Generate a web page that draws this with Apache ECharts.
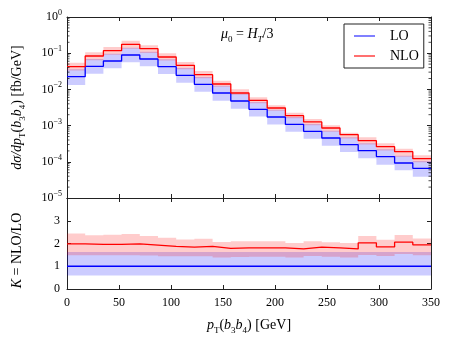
<!DOCTYPE html>
<html>
<head>
<meta charset="utf-8">
<script src="https://cdn.jsdelivr.net/npm/echarts@6/dist/echarts.min.js"></script>
<style>
  html, body { margin: 0; padding: 0; background: #fff; }
  #chart { width: 454px; height: 341px; }
</style>
</head>
<body>
<div id="chart"></div>
<script>
// bin edges of the pT(b3b4) histogram [GeV]
const binEdges = [0, 17.5, 35, 52.5, 70, 87.5, 105, 122.5, 140, 157.5, 175,
  192.5, 210, 227.5, 245, 262.5, 280, 297.5, 315, 332.5, 350];

// dsigma/dpT [fb/GeV], one value per bin
const loCentral = [0.0225, 0.0434, 0.0609, 0.0892, 0.0691, 0.0425, 0.0245, 0.0138, 0.00796, 0.00478,
  0.00281, 0.00173, 0.00108, 0.000695, 0.000454, 0.000297, 0.000203, 0.000139, 0.0000927, 0.0000660];
const loUp = [0.0359, 0.0692, 0.0971, 0.142, 0.110, 0.0677, 0.0391, 0.0220, 0.0127, 0.00762,
  0.00448, 0.00276, 0.00172, 0.00111, 0.000724, 0.000473, 0.000324, 0.000222, 0.000148, 0.000105];
const loDown = [0.0132, 0.0272, 0.0382, 0.0560, 0.0434, 0.0266, 0.0153, 0.00865, 0.00489, 0.00294,
  0.00177, 0.00108, 0.000680, 0.000435, 0.000279, 0.000187, 0.000125, 0.0000834, 0.0000581, 0.0000388];
const nloCentral = [0.0425, 0.0837, 0.1175, 0.176, 0.1334, 0.0785, 0.0462, 0.0255, 0.0141, 0.00796,
  0.00499, 0.00306, 0.00188, 0.00126, 0.000859, 0.000562, 0.000384, 0.000262, 0.000191, 0.000122];
const nloUp = [0.0548, 0.1057, 0.1483, 0.222, 0.165, 0.0992, 0.0571, 0.0322, 0.0174, 0.01005,
  0.00604, 0.00363, 0.00228, 0.00152, 0.00102, 0.000638, 0.000474, 0.000324, 0.000231, 0.000151];
const nloDown = [0.0333, 0.0642, 0.0901, 0.132, 0.102, 0.0629, 0.0363, 0.0204, 0.0118, 0.00707,
  0.00416, 0.00256, 0.00160, 0.00103, 0.000672, 0.000440, 0.000300, 0.000206, 0.000137, 0.0000977];

// K = NLO/LO ratio panel
const kLo = [1, 1, 1, 1, 1, 1, 1, 1, 1, 1, 1, 1, 1, 1, 1, 1, 1, 1, 1, 1];
const kLoUp = [1.63, 1.63, 1.63, 1.63, 1.63, 1.63, 1.63, 1.63, 1.63, 1.63,
  1.63, 1.63, 1.63, 1.63, 1.63, 1.63, 1.63, 1.63, 1.63, 1.63];
const kLoDown = [0.59, 0.59, 0.59, 0.59, 0.59, 0.59, 0.59, 0.59, 0.59, 0.59,
  0.59, 0.59, 0.59, 0.59, 0.59, 0.59, 0.59, 0.59, 0.59, 0.59];
const kNlo = [1.98, 1.96, 1.96, 1.98, 1.93, 1.87, 1.84, 1.87, 1.79, 1.81,
  1.81, 1.81, 1.76, 1.84, 1.81, 1.76, 2.03, 1.85, 2.06, 1.94];
const kNloUp = [2.44, 2.36, 2.39, 2.42, 2.33, 2.25, 2.18, 2.21, 2.07, 2.10,
  2.10, 2.10, 2.02, 2.10, 2.06, 2.02, 2.33, 2.16, 2.37, 2.22];
const kNloDown = [1.48, 1.48, 1.48, 1.48, 1.47, 1.44, 1.44, 1.44, 1.39, 1.41,
  1.42, 1.42, 1.39, 1.45, 1.42, 1.39, 1.50, 1.45, 1.54, 1.48];

const xTicks = [0, 50, 100, 150, 200, 250, 300, 350];
const kTickLabels = ['0', '1', '2', '3'];

const SERIF = 'Liberation Serif';
const FRAME = '#222';
const BLUE = '#0000ff';
const RED = '#ff0000';

// axis indices: x 0/1 and y 0/1 belong to the top panel, 2/3 to the ratio panel
const TOP = 0, RATIO = 2;

function stepData(vals) {
  return binEdges.map((e, i) => [e, vals[Math.min(i, vals.length - 1)]]);
}

function bandSeries(lo, hi, fill, axis, anchor) {
  return {
    type: 'custom',
    xAxisIndex: axis, yAxisIndex: axis,
    silent: true,
    z: 1,
    data: [[binEdges[0], anchor]],
    renderItem: function (params, api) {
      const pts = [];
      for (let i = 0; i < hi.length; i++) {
        pts.push(api.coord([binEdges[i], hi[i]]));
        pts.push(api.coord([binEdges[i + 1], hi[i]]));
      }
      for (let i = lo.length - 1; i >= 0; i--) {
        pts.push(api.coord([binEdges[i + 1], lo[i]]));
        pts.push(api.coord([binEdges[i], lo[i]]));
      }
      return { type: 'polygon', shape: { points: pts }, style: { fill: fill } };
    }
  };
}

function stepLine(name, vals, color, axis) {
  return {
    name: name,
    type: 'line',
    xAxisIndex: axis, yAxisIndex: axis,
    step: 'end',
    symbol: 'none',
    z: 3,
    lineStyle: { color: color, width: 1.3 },
    itemStyle: { color: color },
    data: stepData(vals)
  };
}

// minor ticks of the log axis (both sides), positioned by the axis scale
const minorTicks = {
  type: 'custom',
  xAxisIndex: TOP, yAxisIndex: TOP,
  silent: true,
  z: 5,
  data: [[0, 1e-3]],
  renderItem: function (params, api) {
    const children = [];
    for (let d = -5; d < 0; d++) {
      for (let m = 2; m <= 9; m++) {
        const v = m * Math.pow(10, d);
        const l = api.coord([0, v]);
        const r = api.coord([350, v]);
        children.push({ type: 'line', shape: { x1: l[0], y1: l[1], x2: l[0] + 2.5, y2: l[1] },
          style: { stroke: FRAME, lineWidth: 0.8 } });
        children.push({ type: 'line', shape: { x1: r[0], y1: r[1], x2: r[0] - 2.5, y2: r[1] },
          style: { stroke: FRAME, lineWidth: 0.8 } });
      }
    }
    return { type: 'group', children: children };
  }
};

const mathRich = {
  i: { fontFamily: SERIF, fontStyle: 'italic', fontSize: 14, lineHeight: 20, color: '#000' },
  r: { fontFamily: SERIF, fontSize: 14, lineHeight: 20, color: '#000' },
  sub: { fontFamily: SERIF, fontStyle: 'italic', fontSize: 9, lineHeight: 20, verticalAlign: 'bottom', color: '#000' },
  subr: { fontFamily: SERIF, fontSize: 9, lineHeight: 20, verticalAlign: 'bottom', color: '#000' }
};

const tickLabelStyle = { fontFamily: SERIF, fontSize: 12, color: '#000' };

function xAxisPair(grid, showLabels) {
  const base = {
    gridIndex: grid, type: 'value', min: 0, max: 350, interval: 50,
    axisLine: { show: true, onZero: false, lineStyle: { color: FRAME, width: 1 } },
    axisTick: { show: true, inside: true, length: 4, lineStyle: { color: FRAME } },
    splitLine: { show: false }
  };
  const bottom = Object.assign({}, base, {
    position: 'bottom',
    axisLabel: showLabels ? Object.assign({ margin: 8 }, tickLabelStyle, {
      formatter: v => xTicks.indexOf(v) >= 0 ? String(v) : '' }) : { show: false }
  });
  if (showLabels) {
    bottom.name = '{i|p}{subr|T}{r|(}{i|b}{subr|3}{i|b}{subr|4}{r|) [GeV]}';
    bottom.nameLocation = 'middle';
    bottom.nameGap = 26;
    bottom.nameTextStyle = { rich: mathRich };
  }
  const top = Object.assign({}, base, { position: 'top', axisLabel: { show: false } });
  return [bottom, top];
}

const xAxes = xAxisPair(0, false).concat(xAxisPair(1, true));

function yAxisPair(grid, type, extraLeft) {
  const base = {
    gridIndex: grid, type: type,
    axisLine: { show: true, onZero: false, lineStyle: { color: FRAME, width: 1 } },
    axisTick: { show: true, inside: true, length: 4, lineStyle: { color: FRAME } },
    splitLine: { show: false }
  };
  const left = Object.assign({}, base, { position: 'left' }, extraLeft);
  const right = Object.assign({}, base, { position: 'right', axisLabel: { show: false } });
  ['min', 'max', 'interval', 'logBase'].forEach(k => {
    if (extraLeft[k] !== undefined) right[k] = extraLeft[k];
  });
  return [left, right];
}

const yAxes = yAxisPair(0, 'log', {
  logBase: 10, min: 1e-5, max: 1,
  axisLabel: {
    margin: 5,
    formatter: function (v) {
      const e = Math.round(Math.log10(v));
      return '{b|10}{s|' + (e < 0 ? '\u2212' + (-e) : e) + '}';
    },
    rich: {
      b: { fontFamily: SERIF, fontSize: 12, lineHeight: 16, color: '#000' },
      s: { fontFamily: SERIF, fontSize: 8, lineHeight: 16, verticalAlign: 'top', color: '#000' }
    }
  },
  name: '{i|d\u03c3/dp}{subr|T}{r|(}{i|b}{subr|3}{i|b}{subr|4}{r|) [fb/GeV]}',
  nameLocation: 'middle',
  nameGap: 40,
  nameRotate: 90,
  nameTextStyle: { rich: mathRich }
}).concat(yAxisPair(1, 'value', {
  min: 0, max: 4, interval: 1,
  axisLabel: Object.assign({ margin: 7 }, tickLabelStyle, {
    formatter: v => kTickLabels[v] !== undefined ? kTickLabels[v] : '' }),
  name: '{i|K}{r| = NLO/LO}',
  nameLocation: 'middle',
  nameGap: 40,
  nameRotate: 90,
  nameTextStyle: { rich: mathRich, padding: [0, 14, 0, 0] }
}));

const option = {
  animation: false,
  backgroundColor: '#fff',
  grid: [
    { left: 67, top: 17, width: 364, height: 181 },
    { left: 67, top: 198, width: 364, height: 91 }
  ],
  xAxis: xAxes,
  yAxis: yAxes,
  legend: {
    orient: 'vertical',
    left: 344, top: 24,
    padding: [4, 5, 4, 10],
    icon: 'rect',
    itemWidth: 21, itemHeight: 2, itemGap: 4,
    borderColor: FRAME, borderWidth: 1, borderRadius: 0,
    backgroundColor: '#fff',
    textStyle: { fontFamily: SERIF, fontSize: 14, lineHeight: 16, color: '#000', padding: [0, 0, 0, 10] },
    data: [
      { name: 'LO', itemStyle: { color: '#8080ff' } },
      { name: 'NLO', itemStyle: { color: '#ff7070' } }
    ],
    selectedMode: false
  },
  graphic: [
    {
      type: 'text', left: 221, top: 27,
      style: {
        text: '{i|\u03bc}{subr|0}{r| = }{i|H}{sub|T}{r|/3}',
        rich: mathRich
      }
    }
  ],
  series: [
    bandSeries(loDown, loUp, 'rgba(0,0,255,0.2)', TOP, 1e-3),
    bandSeries(nloDown, nloUp, 'rgba(255,0,0,0.2)', TOP, 1e-3),
    stepLine('LO', loCentral, BLUE, TOP),
    stepLine('NLO', nloCentral, RED, TOP),
    bandSeries(kLoDown, kLoUp, 'rgba(0,0,255,0.2)', RATIO, 1),
    bandSeries(kNloDown, kNloUp, 'rgba(255,0,0,0.2)', RATIO, 1),
    stepLine('', kLo, BLUE, RATIO),
    stepLine(' ', kNlo, RED, RATIO),
    minorTicks
  ]
};

const chart = echarts.init(document.getElementById('chart'), null, { renderer: 'canvas' });
chart.setOption(option);
</script>
</body>
</html>
